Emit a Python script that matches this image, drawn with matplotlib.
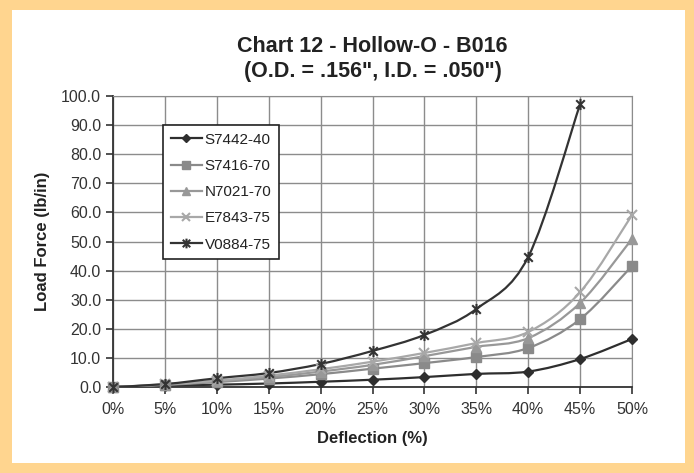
import matplotlib
matplotlib.use('Agg')
import matplotlib.pyplot as plt
from matplotlib.path import Path
from matplotlib.patches import PathPatch, Rectangle
import numpy as np

plt.rcParams['font.family'] = ['Liberation Sans', 'DejaVu Sans']

deflection = [0, 5, 10, 15, 20, 25, 30, 35, 40, 45, 50]
s7442_40 = [0.0, 0.5, 0.8, 1.2, 1.8, 2.5, 3.4, 4.5, 5.3, 9.6, 16.5]
s7416_70 = [0.0, 0.7, 1.7, 2.9, 4.4, 6.3, 8.2, 10.3, 13.4, 23.3, 41.6]
n7021_70 = [0.0, 0.8, 2.0, 3.4, 5.3, 7.6, 10.6, 13.8, 16.8, 28.9, 50.9]
e7843_75 = [0.0, 0.9, 2.2, 3.9, 6.1, 8.7, 11.7, 15.1, 18.9, 32.6, 59.1]
v0884_75 = [0.0, 1.0, 3.0, 4.8, 7.9, 12.4, 17.9, 26.8, 44.7, 97.2]

names = ['S7442-40', 'S7416-70', 'N7021-70', 'E7843-75', 'V0884-75']
series = [s7442_40, s7416_70, n7021_70, e7843_75, v0884_75]

# excel style "star" marker: x plus a vertical bar
star = Path([(-1, -1), (1, 1), (-1, 1), (1, -1), (0, -1.3), (0, 1.3)],
            [Path.MOVETO, Path.LINETO, Path.MOVETO, Path.LINETO, Path.MOVETO, Path.LINETO])

styles = [
    dict(color='#2e2e2e', marker='D', ms=5.5),
    dict(color='#8a8a8a', marker='s', ms=7),
    dict(color='#989898', marker='^', ms=7),
    dict(color='#a8a8a8', marker='x', ms=7, mew=1.5),
    dict(color='#333333', marker=star, ms=8, mew=1.5),
]


def smooth_path(x, y):
    # catmull-rom through the points, as bezier segments (excel smoothed line)
    pts = np.column_stack([x, y]).astype(float)
    verts = [pts[0]]
    codes = [Path.MOVETO]
    n = len(pts)
    for i in range(n - 1):
        p0 = pts[i - 1] if i > 0 else pts[i]
        p1 = pts[i]
        p2 = pts[i + 1]
        p3 = pts[i + 2] if i + 2 < n else pts[i + 1]
        c1 = p1 + (p2 - p0) / 6.0
        c2 = p2 - (p3 - p1) / 6.0
        verts += [c1, c2, p2]
        codes += [Path.CURVE4] * 3
    return Path(verts, codes)


fig = plt.figure(figsize=(6.94, 4.73), dpi=100)
fig.patch.set_facecolor('#ffd58f')
fig.add_artist(Rectangle((12 / 694, 10 / 473), 673 / 694, 453 / 473,
                         transform=fig.transFigure, facecolor='white',
                         edgecolor='none', zorder=-10))

ax = fig.add_axes([113 / 694, 86 / 473, 519 / 694, 291 / 473])
ax.set_facecolor('white')

for name, vals, st in zip(names, series, styles):
    xs = deflection[:len(vals)]
    ax.add_patch(PathPatch(smooth_path(xs, vals), facecolor='none',
                           edgecolor=st['color'], lw=1.6, zorder=3))
    ax.plot(xs, vals, linestyle='none', marker=st['marker'], ms=st['ms'],
            color=st['color'], mew=st.get('mew', 1), zorder=4, clip_on=False)
    ax.plot([], [], color=st['color'], lw=1.6, marker=st['marker'],
            ms=st['ms'] - 1, mew=st.get('mew', 1), label=name)

ax.set_xlim(0, 50)
ax.set_ylim(0, 100)
ax.set_xticks(deflection)
ax.set_xticklabels([f'{d}%' for d in deflection])
ax.set_yticks(np.arange(0, 101, 10))
ax.set_yticklabels([f'{v:.1f}' for v in np.arange(0, 101, 10)])
ax.grid(True, color='#8c8c8c', lw=1)
ax.set_axisbelow(True)
for side in ['top', 'right']:
    ax.spines[side].set_color('#8c8c8c')
for side in ['left', 'bottom']:
    ax.spines[side].set_color('#333333')
    ax.spines[side].set_linewidth(1.3)
ax.tick_params(axis='both', labelsize=11.5, colors='#333333', length=5, width=1.2)
ax.tick_params(axis='x', pad=6)

ax.set_xlabel('Deflection (%)', fontsize=12, fontweight='bold', color='#222222', labelpad=10)
ax.set_ylabel('Load Force (lb/in)', fontsize=12, fontweight='bold', color='#222222', labelpad=8)
ax.set_title('Chart 12 - Hollow-O - B016\n(O.D. = .156", I.D. = .050")',
             fontsize=15.5, fontweight='bold', color='#222222', pad=14, linespacing=1.2)

leg = ax.legend(loc='upper left', bbox_to_anchor=(0.097, 0.9), fontsize=11,
                frameon=True, fancybox=False, handlelength=2.0, handletextpad=0.2,
                borderpad=0.5, labelspacing=0.8, borderaxespad=0)
leg.get_frame().set_edgecolor('#222222')
leg.get_frame().set_linewidth(1.2)
leg.get_frame().set_alpha(1)
for t in leg.get_texts():
    t.set_color('#222222')

fig.savefig('out.png', dpi=100, facecolor=fig.get_facecolor())
